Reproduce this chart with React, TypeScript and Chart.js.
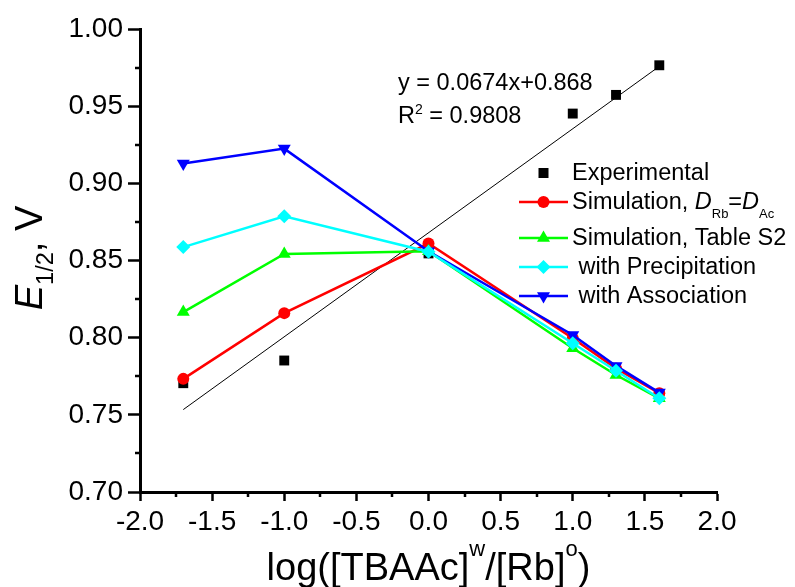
import React, { useEffect, useRef } from 'react';
import { Chart, registerables } from 'chart.js';

Chart.register(...registerables);

const FONT = "'Liberation Sans', Arial, Helvetica, sans-serif";

// ---- data ----
const xValues = [-1.7, -1.0, 0.0, 1.0, 1.3, 1.6];
const experimental = [0.7705, 0.7852, 0.8546, 0.9452, 0.9573, 0.9765];
const simDiffusion = [0.7733, 0.8159, 0.861, 0.7996, 0.7801, 0.764];
const simTableS2 = [0.8166, 0.8542, 0.856, 0.7931, 0.7758, 0.7607];
const withPrecipitation = [0.8587, 0.8786, 0.8557, 0.7964, 0.7786, 0.7607];
const withAssociation = [0.9128, 0.9225, 0.856, 0.8017, 0.7817, 0.7644];
const fitX = [-1.7, 1.6];
const fitY = [0.7534, 0.9758];

const xTickValues = [-2.0, -1.5, -1.0, -0.5, 0.0, 0.5, 1.0, 1.5, 2.0];
const xTickLabels = ['-2.0', '-1.5', '-1.0', '-0.5', '0.0', '0.5', '1.0', '1.5', '2.0'];
const xMinorTicks = [-1.75, -1.25, -0.75, -0.25, 0.25, 0.75, 1.25, 1.75];
const yTickValues = [0.7, 0.75, 0.8, 0.85, 0.9, 0.95, 1.0];
const yTickLabels = ['0.70', '0.75', '0.80', '0.85', '0.90', '0.95', '1.00'];
const yMinorTicks = [0.725, 0.775, 0.825, 0.875, 0.925, 0.975];

const fitEquation = 'y = 0.0674x+0.868';
const fitR2Value = ' = 0.9808';

type Run = { text: string; size?: number; italic?: boolean; dy?: number };

const legendItems: { color: string; style: string; line: boolean; y: number; runs: Run[] }[] = [
  { color: '#000000', style: 'rect', line: false, y: 173, runs: [{ text: 'Experimental' }] },
  {
    color: '#FF0000', style: 'circle', line: true, y: 202,
    runs: [
      { text: 'Simulation, ' },
      { text: 'D', italic: true },
      { text: 'Rb', size: 13, dy: 9 },
      { text: '=' },
      { text: 'D', italic: true },
      { text: 'Ac', size: 13, dy: 9 },
    ],
  },
  { color: '#00FF00', style: 'triangle', line: true, y: 238, runs: [{ text: 'Simulation, Table S2' }] },
  { color: '#00FFFF', style: 'rectRot', line: true, y: 267, runs: [{ text: ' with Precipitation' }] },
  { color: '#0000FF', style: 'triangleDown', line: true, y: 296, runs: [{ text: ' with Association' }] },
];

function drawRuns(ctx: CanvasRenderingContext2D, x: number, y: number, runs: Run[], baseSize: number) {
  let cx = x;
  for (const r of runs) {
    ctx.font = `${r.italic ? 'italic ' : ''}${r.size || baseSize}px ${FONT}`;
    ctx.fillText(r.text, cx, y + (r.dy || 0));
    cx += ctx.measureText(r.text).width;
  }
  return cx - x;
}

function measureRuns(ctx: CanvasRenderingContext2D, runs: Run[], baseSize: number) {
  let w = 0;
  for (const r of runs) {
    ctx.font = `${r.italic ? 'italic ' : ''}${r.size || baseSize}px ${FONT}`;
    w += ctx.measureText(r.text).width;
  }
  return w;
}

function drawMarker(ctx: CanvasRenderingContext2D, style: string, x: number, y: number, color: string) {
  ctx.fillStyle = color;
  ctx.beginPath();
  if (style === 'rect') {
    const s = 5;
    ctx.rect(x - s, y - s, 2 * s, 2 * s);
  } else if (style === 'circle') {
    ctx.arc(x, y, 6, 0, Math.PI * 2);
  } else if (style === 'triangle' || style === 'triangleDown') {
    const r = 7.5;
    const sign = style === 'triangle' ? 1 : -1;
    for (let k = 0; k < 3; k++) {
      const a = (k * 2 * Math.PI) / 3;
      const px = x + Math.sin(a) * r * sign;
      const py = y - Math.cos(a) * r * sign;
      if (k === 0) ctx.moveTo(px, py);
      else ctx.lineTo(px, py);
    }
    ctx.closePath();
  } else if (style === 'rectRot') {
    const r = 7;
    ctx.moveTo(x, y - r);
    ctx.lineTo(x + r, y);
    ctx.lineTo(x, y + r);
    ctx.lineTo(x - r, y);
    ctx.closePath();
  }
  ctx.fill();
}

const decorPlugin = {
  id: 'decor',
  afterDraw(chart: any) {
    const ctx: CanvasRenderingContext2D = chart.ctx;
    const xs = chart.scales.x;
    const ys = chart.scales.y;
    const area = chart.chartArea;
    ctx.save();
    // minor ticks
    ctx.strokeStyle = '#000';
    ctx.lineWidth = 2.5;
    ctx.beginPath();
    for (const v of yMinorTicks) {
      const py = Math.round(ys.getPixelForValue(v));
      ctx.moveTo(area.left - 5, py);
      ctx.lineTo(area.left, py);
    }
    for (const v of xMinorTicks) {
      const px = Math.round(xs.getPixelForValue(v));
      ctx.moveTo(px, area.bottom);
      ctx.lineTo(px, area.bottom + 5);
    }
    ctx.stroke();

    ctx.fillStyle = '#000';
    ctx.textBaseline = 'alphabetic';
    ctx.textAlign = 'left';

    // fit annotation
    drawRuns(ctx, 398, 90, [{ text: fitEquation }], 23.5);
    drawRuns(ctx, 398, 123, [{ text: 'R' }, { text: '2', size: 14, dy: -9 }, { text: fitR2Value }], 23.5);

    // legend
    for (const item of legendItems) {
      if (item.line) {
        ctx.strokeStyle = item.color;
        ctx.lineWidth = 2.5;
        ctx.beginPath();
        ctx.moveTo(519, item.y);
        ctx.lineTo(568, item.y);
        ctx.stroke();
      }
      drawMarker(ctx, item.style, 543.5, item.y, item.color);
      ctx.fillStyle = '#000';
      drawRuns(ctx, 572, item.y + 7, item.runs, 23.5);
    }

    // x axis title
    const xTitle: Run[] = [
      { text: 'log([TBAAc]' },
      { text: 'w', size: 22, dy: -24 },
      { text: '/[Rb]' },
      { text: 'o', size: 22, dy: -24 },
      { text: ')' },
    ];
    const wx = measureRuns(ctx, xTitle, 38);
    ctx.fillStyle = '#000';
    drawRuns(ctx, (area.left + area.right) / 2 - wx / 2, 580, xTitle, 38);

    // y axis title
    const yTitle: Run[] = [
      { text: 'E', italic: true },
      { text: '1/2', size: 23.5, dy: 11 },
      { text: ', V' },
    ];
    const wy = measureRuns(ctx, yTitle, 38);
    ctx.translate(42, 258 + wy / 2);
    ctx.rotate(-Math.PI / 2);
    drawRuns(ctx, 0, 0, yTitle, 38);
    ctx.restore();
  },
};

function series(values: number[]) {
  return xValues.map((x, i) => ({ x, y: values[i] }));
}

export default function App() {
  const ref = useRef<HTMLCanvasElement>(null);
  useEffect(() => {
    if (!ref.current) return;
    const lineDs = (label: string, values: number[], color: string, style: string, radius: number, order: number, rotation = 0) => ({
      label,
      data: series(values),
      showLine: true,
      borderColor: color,
      backgroundColor: color,
      borderWidth: 2.5,
      pointStyle: style,
      pointRadius: radius,
      pointRotation: rotation,
      pointBorderWidth: 0,
      pointBackgroundColor: color,
      order,
    });
    const chart = new Chart(ref.current, {
      type: 'scatter',
      data: {
        datasets: [
          {
            label: 'fit',
            data: fitX.map((x, i) => ({ x, y: fitY[i] })),
            showLine: true,
            borderColor: '#000',
            borderWidth: 1,
            pointRadius: 0,
            order: 10,
          },
          {
            label: 'Experimental',
            data: series(experimental),
            showLine: false,
            pointStyle: 'rect',
            pointRadius: 7,
            pointBorderWidth: 0,
            backgroundColor: '#000',
            borderColor: '#000',
            order: 9,
          },
          lineDs('Simulation, D_Rb=D_Ac', simDiffusion, '#FF0000', 'circle', 6, 8),
          lineDs('Simulation, Table S2', simTableS2, '#00FF00', 'triangle', 7.5, 7),
          lineDs('with Association', withAssociation, '#0000FF', 'triangle', 7.5, 6, 180),
          lineDs('with Precipitation', withPrecipitation, '#00FFFF', 'rectRot', 7, 5),
        ] as any,
      },
      options: {
        responsive: false,
        animation: false,
        layout: { padding: { top: 29, right: 78, left: 0, bottom: 0 } },
        plugins: { legend: { display: false }, tooltip: { enabled: false } },
        scales: {
          x: {
            type: 'linear',
            min: -2,
            max: 2,
            afterBuildTicks: (s: any) => {
              s.ticks = xTickValues.map((v) => ({ value: v }));
            },
            afterFit: (s: any) => {
              s.height = 95;
            },
            grid: {
              display: true,
              drawOnChartArea: false,
              drawTicks: true,
              tickLength: 9,
              tickWidth: 2.5,
              tickColor: '#000',
              color: '#000',
            },
            border: { display: true, color: '#000', width: 3 },
            ticks: {
              color: '#000',
              font: { family: FONT, size: 28 },
              padding: 4,
              maxRotation: 0,
              autoSkip: false,
              callback: (_v: any, i: number) => xTickLabels[i],
            },
          },
          y: {
            type: 'linear',
            min: 0.7,
            max: 1.0,
            afterBuildTicks: (s: any) => {
              s.ticks = yTickValues.map((v) => ({ value: v }));
            },
            afterFit: (s: any) => {
              s.width = 140;
            },
            grid: {
              display: true,
              drawOnChartArea: false,
              drawTicks: true,
              tickLength: 12,
              tickWidth: 2.5,
              tickColor: '#000',
              color: '#000',
            },
            border: { display: true, color: '#000', width: 3 },
            ticks: {
              color: '#000',
              font: { family: FONT, size: 28 },
              padding: 5,
              autoSkip: false,
              callback: (_v: any, i: number) => yTickLabels[i],
            },
          },
        },
      } as any,
      plugins: [decorPlugin],
    });
    return () => chart.destroy();
  }, []);
  return (
    <div style={{ position: 'absolute', left: 0, top: 0, width: 795, height: 587, background: '#fff' }}>
      <canvas ref={ref} width={795} height={587} style={{ display: 'block' }} />
    </div>
  );
}
